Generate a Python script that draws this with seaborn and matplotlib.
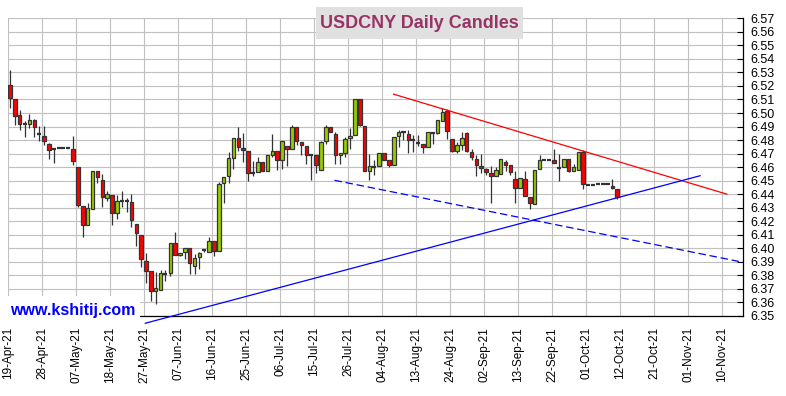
import numpy as np
import pandas as pd
import matplotlib
matplotlib.use("Agg")
import matplotlib.pyplot as plt
import seaborn as sns
from matplotlib.patches import Rectangle

# ====================================
# DATA (USDCNY daily candles)
# ====================================

start_date = "2021-04-19"

opens = [
    6.5207, 6.5101, 6.4984, 6.4916, 6.4918, 6.4947, 6.4843, 6.4829, 6.4771, 6.4732,
    6.4739, 6.4739, 6.4739, 6.4734, 6.4601, 6.4315, 6.4170, 6.4293, 6.4572, 6.4506,
    6.4374, 6.4396, 6.4261, 6.4352, 6.4349, 6.4344, 6.4182, 6.4101, 6.3910, 6.3829,
    6.3687, 6.3695, 6.3811, 6.3815, 6.4043, 6.3954, 6.3976, 6.4006, 6.3871, 6.3937,
    6.3989, 6.3976, 6.4057, 6.3984, 6.4484, 6.4533, 6.4670, 6.4815, 6.4741, 6.4720,
    6.4556, 6.4563, 6.4637, 6.4573, 6.4693, 6.4718, 6.4651, 6.4757, 6.4732, 6.4897,
    6.4784, 6.4757, 6.4693, 6.4688, 6.4578, 6.4794, 6.4894, 6.4843, 6.4688, 6.4703,
    6.4813, 6.4835, 6.5107, 6.4905, 6.4570, 6.4602, 6.4606, 6.4704, 6.4655, 6.4614,
    6.4827, 6.4859, 6.4847, 6.4799, 6.4779, 6.4773, 6.4749, 6.4849, 6.4850, 6.4943,
    6.5017, 6.4808, 6.4720, 6.4762, 6.4850, 6.4713, 6.4659, 6.4611, 6.4587, 6.4557,
    6.4533, 6.4550, 6.4638, 6.4614, 6.4511, 6.4447, 6.4513, 6.4381, 6.4329, 6.4587,
    6.4655, 6.4655, 6.4653, 6.4594, 6.4601, 6.4660, 6.4575, 6.4577, 6.4712, 6.4465,
    6.4468, 6.4474, 6.4475, 6.4475, 6.4460, 6.4440,
]

highs = [
    6.5317, 6.5101, 6.5023, 6.4942, 6.4991, 6.4957, 6.4905, 6.4905, 6.4778, 6.4741,
    6.4739, 6.4739, 6.4739, 6.4832, 6.4601, 6.4315, 6.4332, 6.4572, 6.4572, 6.4550,
    6.4423, 6.4396, 6.4396, 6.4427, 6.4369, 6.4398, 6.4182, 6.4101, 6.3969, 6.3829,
    6.3822, 6.3842, 6.3839, 6.4043, 6.4124, 6.3969, 6.4006, 6.4006, 6.3957, 6.3974,
    6.3994, 6.4084, 6.4057, 6.4491, 6.4528, 6.4712, 6.4815, 6.4900, 6.4851, 6.4720,
    6.4647, 6.4678, 6.4637, 6.4691, 6.4843, 6.4718, 6.4794, 6.4757, 6.4909, 6.4897,
    6.4784, 6.4757, 6.4693, 6.4688, 6.4796, 6.4909, 6.4894, 6.4857, 6.4703, 6.4825,
    6.4887, 6.5107, 6.5107, 6.4905, 6.4697, 6.4653, 6.4704, 6.4704, 6.4655, 6.4822,
    6.4876, 6.4862, 6.4876, 6.4834, 6.4834, 6.4773, 6.4859, 6.4851, 6.4946, 6.5039,
    6.5029, 6.4808, 6.4784, 6.4862, 6.4862, 6.4735, 6.4691, 6.4697, 6.4594, 6.4606,
    6.4599, 6.4660, 6.4653, 6.4614, 6.4575, 6.4518, 6.4575, 6.4381, 6.4579, 6.4690,
    6.4655, 6.4655, 6.4736, 6.4697, 6.4660, 6.4660, 6.4626, 6.4712, 6.4729, 6.4465,
    6.4468, 6.4474, 6.4475, 6.4475, 6.4512, 6.4440,
]

lows = [
    6.5040, 6.4908, 6.4876, 6.4820, 6.4893, 6.4820, 6.4790, 6.4766, 6.4663, 6.4628,
    6.4739, 6.4739, 6.4739, 6.4614, 6.4305, 6.4087, 6.4170, 6.4293, 6.4484, 6.4305,
    6.4349, 6.4173, 6.4217, 6.4305, 6.4268, 6.4158, 6.4018, 6.3859, 6.3741, 6.3614,
    6.3589, 6.3695, 6.3761, 6.3798, 6.3952, 6.3945, 6.3920, 6.3810, 6.3812, 6.3844,
    6.3974, 6.3976, 6.3940, 6.3984, 6.4337, 6.4484, 6.4587, 6.4717, 6.4636, 6.4495,
    6.4531, 6.4563, 6.4573, 6.4573, 6.4678, 6.4578, 6.4588, 6.4605, 6.4732, 6.4764,
    6.4693, 6.4622, 6.4502, 6.4556, 6.4578, 6.4774, 6.4857, 6.4622, 6.4622, 6.4678,
    6.4735, 6.4835, 6.4906, 6.4568, 6.4508, 6.4542, 6.4606, 6.4655, 6.4601, 6.4614,
    6.4749, 6.4802, 6.4704, 6.4709, 6.4753, 6.4704, 6.4749, 6.4770, 6.4843, 6.4943,
    6.4808, 6.4710, 6.4703, 6.4727, 6.4715, 6.4654, 6.4531, 6.4557, 6.4545, 6.4337,
    6.4533, 6.4550, 6.4570, 6.4540, 6.4337, 6.4447, 6.4386, 6.4288, 6.4329, 6.4587,
    6.4655, 6.4655, 6.4628, 6.4501, 6.4601, 6.4565, 6.4570, 6.4577, 6.4435, 6.4465,
    6.4468, 6.4474, 6.4475, 6.4475, 6.4440, 6.4366,
]

closes = [
    6.5109, 6.4981, 6.4918, 6.4914, 6.4947, 6.4896, 6.4841, 6.4793, 6.4727, 6.4730,
    6.4739, 6.4739, 6.4739, 6.4646, 6.4320, 6.4170, 6.4300, 6.4572, 6.4528, 6.4376,
    6.4398, 6.4261, 6.4351, 6.4350, 6.4348, 6.4207, 6.4116, 6.3920, 6.3834, 6.3687,
    6.3704, 6.3820, 6.3809, 6.4043, 6.3952, 6.3969, 6.4006, 6.3888, 6.3930, 6.3969,
    6.3989, 6.4057, 6.3984, 6.4476, 6.4528, 6.4668, 6.4815, 6.4746, 6.4726, 6.4556,
    6.4556, 6.4637, 6.4573, 6.4691, 6.4718, 6.4651, 6.4794, 6.4732, 6.4897, 6.4794,
    6.4762, 6.4693, 6.4692, 6.4615, 6.4786, 6.4894, 6.4857, 6.4691, 6.4703, 6.4808,
    6.4830, 6.5107, 6.4914, 6.4568, 6.4606, 6.4600, 6.4704, 6.4655, 6.4614, 6.4822,
    6.4859, 6.4857, 6.4802, 6.4797, 6.4777, 6.4749, 6.4859, 6.4847, 6.4946, 6.5009,
    6.4865, 6.4720, 6.4762, 6.4816, 6.4720, 6.4674, 6.4615, 6.4594, 6.4562, 6.4533,
    6.4582, 6.4660, 6.4619, 6.4565, 6.4447, 6.4518, 6.4388, 6.4337, 6.4579, 6.4653,
    6.4655, 6.4655, 6.4628, 6.4592, 6.4660, 6.4570, 6.4601, 6.4712, 6.4479, 6.4465,
    6.4468, 6.4474, 6.4475, 6.4475, 6.4448, 6.4378,
]

# trend lines drawn on the chart (bar index, price)
red_line_x = [78.9, 147.6]
red_line_y = [6.514, 6.440]
blue_line_x = [27.8, 142.1]
blue_line_y = [6.3446, 6.4537]
blue_dash_x = [66.8, 150.9]
blue_dash_y = [6.4503, 6.3897]

y_ticks = np.round(np.arange(6.35, 6.5701, 0.01), 2)

df = pd.DataFrame({"Open": opens, "High": highs, "Low": lows, "Close": closes})
df["x"] = np.arange(len(df))
df["Date"] = pd.bdate_range(start_date, periods=len(df))

tick_dates = pd.bdate_range(start_date, periods=148)[::7]
tick_pos = np.arange(0, 148, 7)
tick_labels = [d.strftime("%d-%b-%y") for d in tick_dates]

# ====================================
# PLOT
# ====================================

sns.set_style("white")
plt.rcParams["font.family"] = ["Liberation Sans", "DejaVu Sans"]

fig = plt.figure(figsize=(7.86, 3.96), dpi=100)
ax = fig.add_axes([8.3 / 786, 80 / 396, 735 / 786, 297.7 / 396])

body = df["Close"] - df["Open"]
up = body > 0.0003
down = body < -0.0003
flat = ~(up | down)

ax.vlines(df["x"], df["Low"], df["High"], color="#333333", lw=0.9, zorder=2)
ax.bar(df["x"][up], body[up], bottom=df["Open"][up], width=0.72,
       color="#99CC00", edgecolor="#333333", linewidth=0.9, zorder=3)
ax.bar(df["x"][down], body[down], bottom=df["Open"][down], width=0.72,
       color="#FF0000", edgecolor="#333333", linewidth=0.9, zorder=3)
ax.hlines(df["Open"][flat], df["x"][flat] - 0.42, df["x"][flat] + 0.42,
          color="#333333", lw=1.6, zorder=3)

sns.lineplot(x=red_line_x, y=red_line_y, color="#FF0000", lw=0.9, ax=ax, zorder=4)
sns.lineplot(x=blue_line_x, y=blue_line_y, color="#0000FF", lw=0.9, ax=ax,
             zorder=4, clip_on=False)
sns.lineplot(x=blue_dash_x, y=blue_dash_y, color="#0000FF", lw=0.9, ax=ax,
             zorder=4, linestyle=(0, (6, 3)))

ax.set_xlim(-0.35, 150.95)
ax.set_ylim(6.35, 6.57)
ax.set_xticks(tick_pos - 0.35)
ax.set_xticklabels(tick_labels)
ax.set_yticks(y_ticks)
ax.set_yticklabels([f"{v:.2f}" for v in y_ticks])
ax.yaxis.tick_right()
ax.set_xlabel("")
ax.set_ylabel("")

ax.grid(True, color="#C0C0C0", lw=0.8)
ax.set_axisbelow(True)
for side in ["left", "top"]:
    ax.spines[side].set_visible(False)
for side in ["right", "bottom"]:
    ax.spines[side].set_color("black")
    ax.spines[side].set_linewidth(0.9)

ax.tick_params(axis="x", direction="in", length=3, labelsize=8.5,
               labelrotation=90, pad=8, colors="black")
ax.tick_params(axis="y", direction="in", length=4, labelsize=9, pad=5,
               right=True, left=False, colors="black")

# watermark with white patch behind it (covers grid and axis line)
ax.add_patch(Rectangle((-0.02, -0.01), 0.199, 0.077, transform=ax.transAxes,
                       facecolor="white", edgecolor="none", zorder=2.6,
                       clip_on=False))
fig.text(10 / 786, 1 - 310.5 / 396, "www.kshitij.com", color="#0000FF",
         fontsize=11.5, fontweight="bold", ha="left", va="center")

# title box
fig.patches.append(Rectangle((315.7 / 786, 1 - 38.7 / 396), 207.6 / 786, 31.4 / 396,
                             transform=fig.transFigure, facecolor="#E0E0E0",
                             edgecolor="none", zorder=1))
fig.text(419.5 / 786, 1 - 23 / 396, "USDCNY Daily Candles", color="#993366",
         fontsize=13, fontweight="bold", ha="center", va="center", zorder=2)

fig.savefig("out.png", dpi=100)
